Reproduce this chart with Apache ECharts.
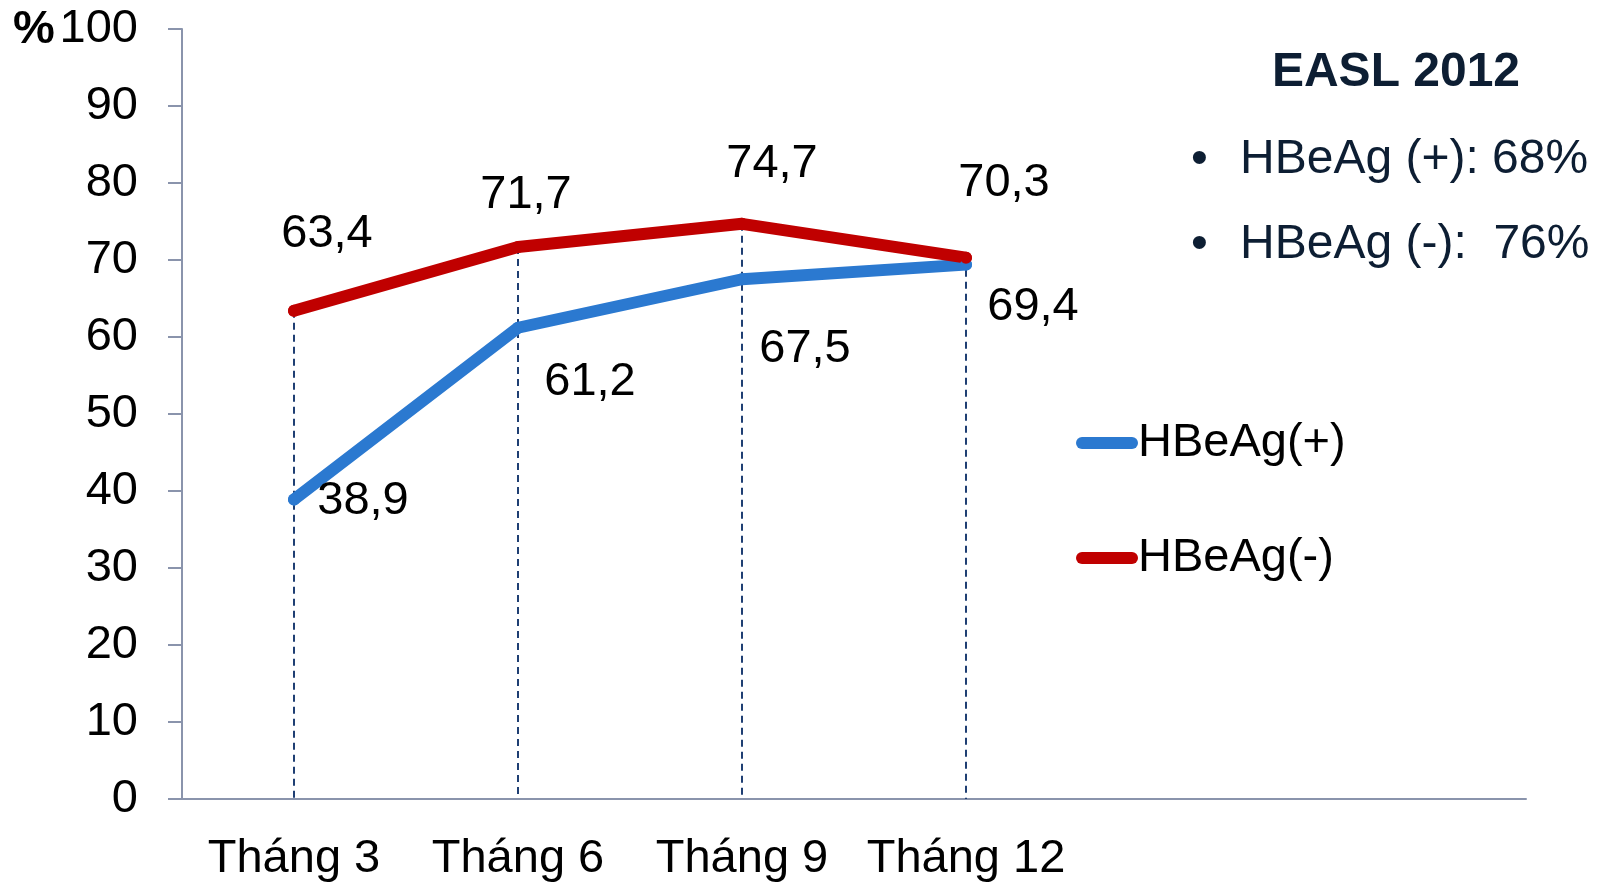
<!DOCTYPE html>
<html>
<head>
<meta charset="utf-8">
<script src="https://cdn.jsdelivr.net/npm/echarts@6/dist/echarts.min.js"></script>
<style>
  html, body { margin: 0; padding: 0; background: #fff; }
  #chart { width: 1603px; height: 883px; }
</style>
</head>
<body>
<div id="chart"></div>
<script>
// Response rate (%) by follow-up month
const months = ['Tháng 3', 'Tháng 6', 'Tháng 9', 'Tháng 12', '', ''];
const hbeagPos = [38.9, 61.2, 67.5, 69.4];
const hbeagNeg = [63.4, 71.7, 74.7, 70.3];
const seriesNames = ['HBeAg(+)', 'HBeAg(-)'];
const yTicks = { min: 0, max: 100, step: 10 };
const noteTitle = 'EASL 2012';
const noteLines = ['HBeAg (+): 68%', 'HBeAg (-):  76%'];

const FONT = "'Liberation Sans', Arial, sans-serif";
const BLUE = '#2B79D0';
const RED = '#C00000';
const NAVY = '#0D1E33';
const FS = 47;

// manual label nudges (px) for each point
const posOffsets = [[69, 2], [72, 54], [63, 70], [67, 42]];
const negOffsets = [[33, -77], [8, -52], [30, -60], [38, -75]];

const fmt = v => String(v).replace('.', ',');

function labelled(values, offsets) {
  return values.map((v, i) => ({
    value: v,
    label: { offset: offsets[i] }
  }));
}

// dashed drop lines from the upper point down to the axis
const dropLines = hbeagPos.map((v, i) => [
  { coord: [i, Math.max(v, hbeagNeg[i])] },
  { coord: [i, 0] }
]);

const chart = echarts.init(document.getElementById('chart'), null, { renderer: 'canvas' });

const lineSeries = (name, values, color, offsets) => ({
  name: name,
  type: 'line',
  data: labelled(values, offsets),
  z: 5,
  symbol: 'circle',
  symbolSize: 12,
  itemStyle: { color: color },
  lineStyle: { color: color, width: 12, cap: 'round', join: 'round' },
  label: {
    show: true,
    position: 'inside',
    formatter: p => fmt(p.value),
    fontFamily: FONT,
    fontSize: FS,
    color: '#000'
  },
  emphasis: { disabled: true },
  animation: false
});

chart.setOption({
  animation: false,
  textStyle: { fontFamily: FONT },
  grid: { left: 182, right: 77, top: 29, bottom: 84 },
  xAxis: {
    type: 'category',
    data: months,
    boundaryGap: true,
    axisLine: { lineStyle: { color: '#8A94AC', width: 2 } },
    axisTick: { show: false },
    axisLabel: { color: '#000', fontSize: FS, fontFamily: FONT, margin: 37, interval: 0 },
    splitLine: { show: false }
  },
  yAxis: {
    type: 'value',
    min: yTicks.min,
    max: yTicks.max,
    interval: yTicks.step,
    axisLine: { show: true, lineStyle: { color: '#8A94AC', width: 2 } },
    axisTick: { show: true, inside: false, length: 14, lineStyle: { color: '#8A94AC', width: 2 } },
    axisLabel: { color: '#000', fontSize: FS, fontFamily: FONT, margin: 44 },
    splitLine: { show: false }
  },
  legend: {
    data: seriesNames,
    orient: 'vertical',
    left: 1071,
    top: 413,
    itemWidth: 62,
    itemHeight: 12,
    itemGap: 65,
    icon: 'path://M6,0 H56 A6,6 0 0 1 56,12 H6 A6,6 0 0 1 6,0 Z',
    textStyle: { fontSize: FS, fontFamily: FONT, color: '#000', lineHeight: 50, padding: [0, 0, 0, -5] },
    selectedMode: false
  },
  graphic: [
    { type: 'text', left: 13, top: 7, style: { text: '%', font: 'bold ' + FS + 'px ' + FONT, fill: '#000' } },
    { type: 'text', x: 1396, y: 73, style: { text: noteTitle, font: 'bold 48px ' + FONT, fill: NAVY, align: 'center', verticalAlign: 'middle' } },
    { type: 'text', x: 1191, y: 160, style: { text: '•', font: '48px ' + FONT, fill: NAVY, verticalAlign: 'middle' } },
    { type: 'text', x: 1240, y: 160, style: { text: noteLines[0], font: '48px ' + FONT, fill: NAVY, verticalAlign: 'middle' } },
    { type: 'text', x: 1191, y: 245, style: { text: '•', font: '48px ' + FONT, fill: NAVY, verticalAlign: 'middle' } },
    { type: 'text', x: 1240, y: 245, style: { text: noteLines[1], font: '48px ' + FONT, fill: NAVY, verticalAlign: 'middle' } }
  ],
  series: [
    {
      name: 'drop',
      type: 'line',
      data: [],
      z: 1,
      silent: true,
      markLine: {
        silent: true,
        symbol: ['none', 'none'],
        label: { show: false },
        lineStyle: { color: '#1F3F73', width: 2, type: [7, 5] },
        emphasis: { disabled: true },
        data: dropLines,
        animation: false
      }
    },
    lineSeries(seriesNames[0], hbeagPos, BLUE, posOffsets),
    lineSeries(seriesNames[1], hbeagNeg, RED, negOffsets)
  ]
});
</script>
</body>
</html>
